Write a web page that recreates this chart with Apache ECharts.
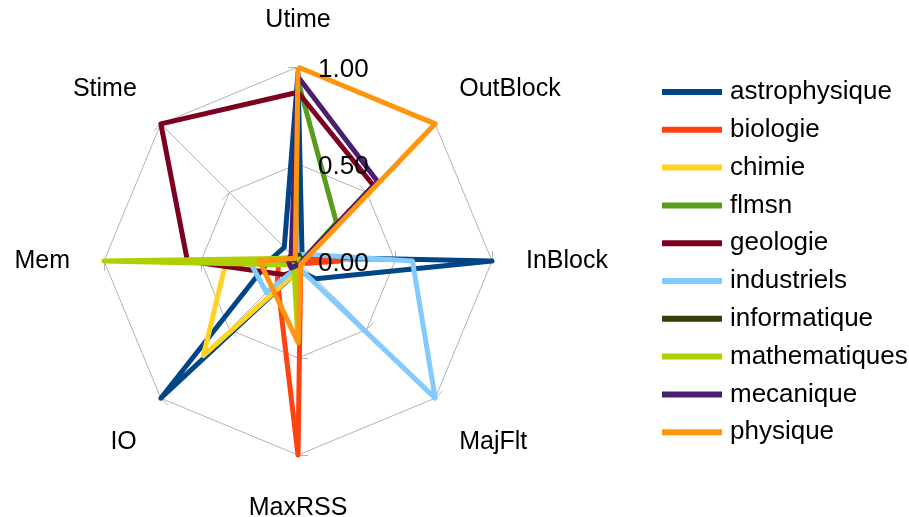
<!DOCTYPE html>
<html>
<head>
<meta charset="utf-8">
<script src="https://cdn.jsdelivr.net/npm/echarts@6/dist/echarts.min.js"></script>
<style>
  html, body { margin: 0; padding: 0; background: #fff; }
  #chart { width: 909px; height: 517px; }
</style>
</head>
<body>
<div id="chart"></div>
<script>
// axes, in echarts order (counter-clockwise from the top)
var axes = ['Utime', 'Stime', 'Mem', 'IO', 'MaxRSS', 'MajFlt', 'InBlock', 'OutBlock'];
var tickLabels = [0, 0.5, 1];

var names = ['astrophysique', 'biologie', 'chimie', 'flmsn', 'geologie', 'industriels',
             'informatique', 'mathematiques', 'mecanique', 'physique'];
var colors = ['#004586', '#ff420e', '#ffd320', '#579d1c', '#7e0021', '#83caff',
              '#314004', '#aecf00', '#4b1f6f', '#ff950e'];

// Utime, Stime, Mem, IO, MaxRSS, MajFlt, InBlock, OutBlock
var astrophysique = [0.97, 0.10, 0.15, 1.00, 0.05, 0.13, 1.00, 0.03];
var biologie      = [0.02, 0.02, 0.10, 0.15, 1.00, 0.02, 0.22, 0.01];
var chimie        = [0.02, 0.02, 0.37, 0.69, 0.05, 0.03, 0.02, 0.01];
var flmsn         = [0.93, 0.02, 0.02, 0.02, 0.02, 0.02, 0.02, 0.28];
var geologie      = [0.87, 1.00, 0.57, 0.10, 0.05, 0.02, 0.02, 0.55];
var industriels   = [0.03, 0.03, 0.25, 0.23, 0.03, 1.00, 0.59, 0.05];
var informatique  = [0.04, 0.02, 0.02, 0.02, 0.02, 0.02, 0.02, 0.02];
var mathematiques = [0.02, 0.02, 1.00, 0.03, 0.42, 0.01, 0.01, 0.01];
var mecanique     = [0.95, 0.05, 0.05, 0.05, 0.02, 0.02, 0.02, 0.58];
var physique      = [1.00, 0.02, 0.20, 0.19, 0.42, 0.02, 0.03, 1.00];

var values = [astrophysique, biologie, chimie, flmsn, geologie, industriels,
              informatique, mathematiques, mecanique, physique];

var font = 'Liberation Sans';
var grey = '#b3b3b3';
var chart = echarts.init(document.getElementById('chart'));

var series = [];
for (var i = 0; i < names.length; i++) {
    series.push({
        name: names[i],
        type: 'radar',
        symbol: 'none',
        lineStyle: { color: colors[i], width: 5 },
        itemStyle: { color: colors[i] },
        data: [{ name: names[i], value: values[i] }]
    });
}

// nudge the axis names a little, like the original layout
var nameStyle = {
    Stime: 'up', OutBlock: 'up', MajFlt: 'dn', IO: 'dn', MaxRSS: 'dn7'
};

var option = {
    animation: false,
    textStyle: { fontFamily: font },
    color: colors,
    legend: {
        orient: 'vertical',
        left: 662,
        top: 79,
        padding: 0,
        icon: 'rect',
        itemWidth: 60,
        itemHeight: 6,
        itemGap: 11.8,
        data: names,
        textStyle: { fontFamily: font, fontSize: 26, color: '#000', lineHeight: 25, padding: [0, 0, 0, 3] }
    },
    radar: {
        center: [298, 261],
        radius: 194,
        shape: 'polygon',
        splitNumber: 2,
        nameGap: 34,
        axisName: {
            color: '#000', fontSize: 25, fontFamily: font,
            formatter: function (name) {
                return nameStyle[name] ? '{' + nameStyle[name] + '|' + name + '}' : name;
            },
            rich: {
                up: { fontSize: 25, color: '#000', fontFamily: font, padding: [0, 0, 22, 0] },
                dn: { fontSize: 25, color: '#000', fontFamily: font, padding: [40, 0, 0, 0] },
                dn7: { fontSize: 25, color: '#000', fontFamily: font, padding: [7, 0, 0, 0] }
            }
        },
        axisLine: { lineStyle: { color: grey, width: 1 } },
        axisTick: { show: true, length: 10, lineStyle: { color: grey } },
        splitLine: { lineStyle: { color: grey, width: 1 } },
        splitArea: { show: false },
        indicator: axes.map(function (a) { return { name: a, min: 0, max: 1 }; })
    },
    polar: { center: [298, 261], radius: 194 },
    angleAxis: { show: false, min: 0, max: 360, startAngle: 90 },
    radiusAxis: {
        min: tickLabels[0],
        max: tickLabels[tickLabels.length - 1],
        interval: tickLabels[1] - tickLabels[0],
        axisLine: { show: false },
        axisTick: { show: false },
        splitLine: { show: false },
        axisLabel: {
            show: true,
            color: '#000',
            fontSize: 26,
            fontFamily: font,
            margin: -20,
            align: 'left',
            formatter: function (v) { return '{t|' + v.toFixed(2) + '}'; },
            rich: {
                t: { fontSize: 26, color: '#000', fontFamily: font, padding: [6, 0, 0, 0] }
            }
        },
        z: 10
    },
    series: series
};
chart.setOption(option);
</script>
</body>
</html>
